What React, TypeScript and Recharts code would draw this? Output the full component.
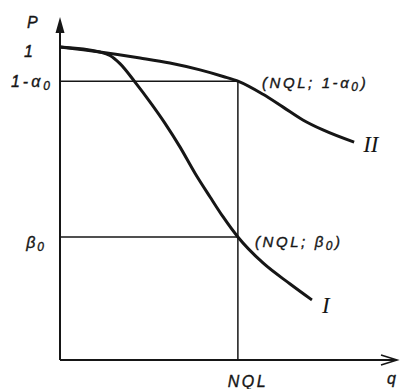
import { LineChart, Line, XAxis, YAxis, ReferenceLine, ReferenceDot } from "recharts";

// operating characteristic, q in % of the axis length, P from 0 to 1
const NQL = 53.1;
const ONE_MINUS_ALPHA = 0.891;
const BETA = 0.393;
const X_MAX = 100;
const Y_MAX = 1.08;

const curveIQ = [0, 11.9, 14.9, 17.9, 22.4, 26.9, 31.3, 35.8, 40.3, 44.8, 48.7, 53.1, 60.6, 68.7, 75.2];
const curveIP = [1.0, 0.984, 0.973, 0.947, 0.888, 0.824, 0.757, 0.681, 0.597, 0.521, 0.457, 0.393, 0.31, 0.243, 0.192];
const curveIIQ = [0, 11.9, 23.9, 32.8, 41.8, 48.7, 53.1, 60.6, 66.6, 72.5, 78.5, 87.8];
const curveIIP = [1.0, 0.984, 0.965, 0.949, 0.927, 0.906, 0.891, 0.849, 0.808, 0.767, 0.735, 0.696];

const yTicks = [BETA, ONE_MINUS_ALPHA, 1];
const yTickLabels: [string, string][] = [
  ["β", "0"],
  ["1-α", "0"],
  ["1", ""],
];

const curveI = curveIQ.map((q, i) => ({ q, p: curveIP[i] }));
const curveII = curveIIQ.map((q, i) => ({ q, p: curveIIP[i] }));

const INK = "#161616";
const FONT = "'Liberation Sans', Arial, sans-serif";
const SERIF = "'Liberation Serif', 'DejaVu Serif', serif";

const txt = {
  fontFamily: FONT,
  fontStyle: "italic" as const,
  fontSize: 16,
  fill: INK,
  stroke: INK,
  strokeWidth: 0.35,
};

function Sub({ children }: { children: string }) {
  return (
    <tspan dy={3} fontSize={12}>
      {children}
    </tspan>
  );
}

function PTick(props: any) {
  const { x, y, index } = props;
  const [main, sub] = yTickLabels[index];
  const endX = [-12, -5, -25][index];
  const dy = [11, 6, 10][index];
  const spacing = [2, 3, 0][index];
  return (
    <text x={x + endX} y={y + dy} textAnchor="end" {...txt} letterSpacing={spacing}>
      {main}
      {sub && <Sub>{sub}</Sub>}
    </text>
  );
}

function QTick(props: any) {
  const { x, y } = props;
  return (
    <text x={x + 10} y={y + 25} textAnchor="middle" {...txt} letterSpacing={2.5}>
      NQL
    </text>
  );
}

const UpArrow = (p: any) => (
  <path
    d={`M${p.cx},${p.cy - 5} L${p.cx + 4.5},${p.cy + 11} L${p.cx - 4.5},${p.cy + 11} Z`}
    fill={INK}
  />
);

const RightArrow = (p: any) => (
  <path
    d={`M${p.cx - 14},${p.cy - 5} L${p.cx + 2},${p.cy} L${p.cx - 14},${p.cy + 5}`}
    fill="none"
    stroke={INK}
    strokeWidth={1.6}
  />
);

const plain = (dx: number, dy: number, label: string) => (p: any) => (
  <text x={p.cx + dx} y={p.cy + dy} {...txt}>
    {label}
  </text>
);

const note = (dx: number, dy: number, main: string, sub: string, tail: string) => (p: any) => (
  <text x={p.cx + dx} y={p.cy + dy} {...txt} fontSize={15} letterSpacing={2.6}>
    {main}
    <Sub>{sub}</Sub>
    <tspan dy={-3}>{tail}</tspan>
  </text>
);

const roman = (dx: number, dy: number, label: string) => (p: any) => (
  <text
    x={p.cx + dx}
    y={p.cy + dy}
    fontFamily={SERIF}
    fontStyle="italic"
    fontSize={23}
    fill={INK}
  >
    {label}
  </text>
);

export default function App() {
  return (
    <div style={{ position: "absolute", left: 0, top: 0, background: "#fff" }}>
      <LineChart width={402} height={389} margin={{ top: 22, right: 7, bottom: 0, left: 0 }}>
        <XAxis
          dataKey="q"
          type="number"
          domain={[0, X_MAX]}
          ticks={[NQL]}
          tick={<QTick />}
          tickLine={false}
          tickSize={0}
          height={29}
          axisLine={{ stroke: INK, strokeWidth: 2 }}
        />
        <YAxis
          type="number"
          domain={[0, Y_MAX]}
          ticks={yTicks}
          tick={<PTick />}
          tickLine={false}
          tickSize={0}
          width={60}
          axisLine={{ stroke: INK, strokeWidth: 2 }}
        />
        <ReferenceLine
          segment={[
            { x: 0, y: ONE_MINUS_ALPHA },
            { x: NQL, y: ONE_MINUS_ALPHA },
          ]}
          stroke={INK}
          strokeWidth={1.5}
        />
        <ReferenceLine
          segment={[
            { x: 0, y: BETA },
            { x: NQL, y: BETA },
          ]}
          stroke={INK}
          strokeWidth={1.5}
        />
        <ReferenceLine
          segment={[
            { x: NQL, y: 0 },
            { x: NQL, y: ONE_MINUS_ALPHA },
          ]}
          stroke={INK}
          strokeWidth={1.5}
        />
        <Line
          data={curveII}
          dataKey="p"
          type="monotone"
          stroke={INK}
          strokeWidth={3}
          dot={false}
          isAnimationActive={false}
        />
        <Line
          data={curveI}
          dataKey="p"
          type="monotone"
          stroke={INK}
          strokeWidth={3}
          dot={false}
          isAnimationActive={false}
        />
        <ReferenceDot x={0} y={Y_MAX} ifOverflow="visible" shape={UpArrow} />
        <ReferenceDot x={0} y={Y_MAX} ifOverflow="visible" shape={plain(-33, 6, "P")} />
        <ReferenceDot x={X_MAX} y={0} ifOverflow="visible" shape={RightArrow} />
        <ReferenceDot x={X_MAX} y={0} ifOverflow="visible" shape={plain(-8, 24, "q")} />
        <ReferenceDot
          x={NQL}
          y={ONE_MINUS_ALPHA}
          ifOverflow="visible"
          shape={note(24, 7, "(NQL; 1-α", "0", ")")}
        />
        <ReferenceDot x={NQL} y={BETA} ifOverflow="visible" shape={note(17, 10, "(NQL; β", "0", ")")} />
        <ReferenceDot
          x={curveIIQ[curveIIQ.length - 1]}
          y={curveIIP[curveIIP.length - 1]}
          ifOverflow="visible"
          shape={roman(9, 10, "II")}
        />
        <ReferenceDot
          x={curveIQ[curveIQ.length - 1]}
          y={curveIP[curveIP.length - 1]}
          ifOverflow="visible"
          shape={roman(10, 13, "I")}
        />
      </LineChart>
    </div>
  );
}
